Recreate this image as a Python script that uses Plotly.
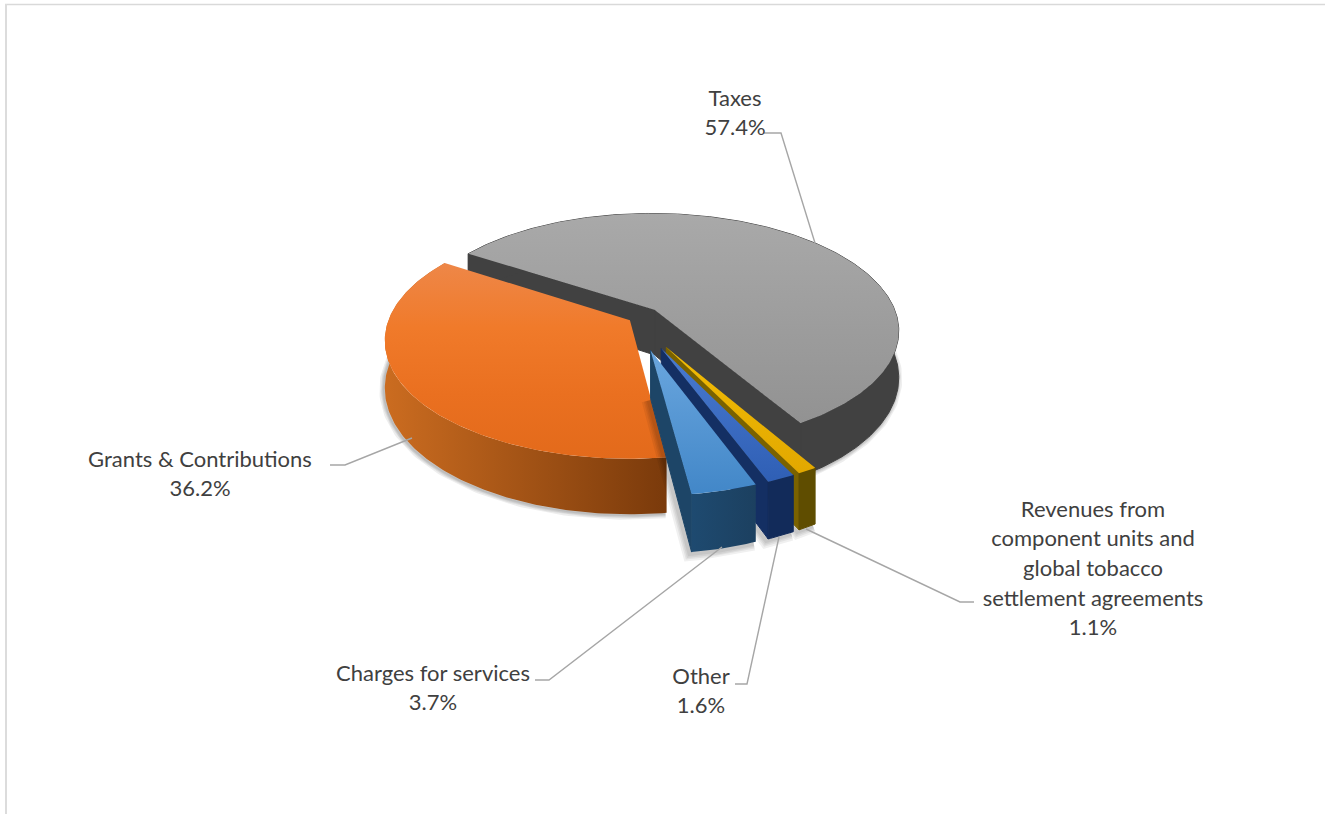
import numpy as np
import plotly.graph_objects as go

# Revenue shares, in pie order (clockwise from the first slice)
categories = ["Taxes", "Revenues from component units and global tobacco settlement agreements",
              "Other", "Charges for services", "Grants & Contributions"]
shares = [57.4, 1.1, 1.6, 3.7, 36.2]
label_lines = [["Taxes"],
               ["Revenues from", "component units and", "global tobacco", "settlement agreements"],
               ["Other"], ["Charges for services"], ["Grants & Contributions"]]

# Drawing style for each slice
explode = [0.12, 0.27, 0.27, 0.27, 0.02]
radius = [1.01, 0.96, 0.96, 0.96, 1.0]
top_colors = [("#a9a9a9", "#929292"), ("#f2bc05", "#e2a800"), ("#4a7bd0", "#2f5fb5"),
              ("#6aa6de", "#4287c8"), ("#ee8748", "#f07a2a", "#ea7020", "#e36a1b")]
wall_colors = [("#414141", "#414141"), ("#5f4d00", "#5f4d00"), ("#122b5a", "#122b5a"),
               ("#1e4a70", "#1c4060"), ("#cb6c20", "#7a3a0b")]
side_colors = ["#414141", "#7a6200", "#142f63", "#1d4567", None]
label_anchor = [(735, 100), (1093, 511), (701, 678), (433, 675), (200, 461)]
leaders = [[(764, 133), (781, 133), (815, 243)],
           [(974, 602), (960, 602), (806, 529)],
           [(735, 684), (747, 684), (779, 537)],
           [(535, 680), (549, 680), (722, 547)],
           [(330, 465), (345, 465), (412, 438)]]

# Perspective of the tilted pie
START_DEG = 302.9
CX, CY, RX, RY, PERSP, DEPTH = 634, 319, 241, 114.5, 0.17, 46
LINE_GAP = 29.7


def project(u, v, drop=False):
    s = 1 / (1 + PERSP * v)
    y = CY - RY * v * s
    return CX + RX * u * s, y + (DEPTH * s if drop else 0)


def polygon(points, gradient, colors, **kw):
    xs = [p[0] for p in points] + [points[0][0]]
    ys = [p[1] for p in points] + [points[0][1]]
    if len(set(colors)) == 1:
        return go.Scatter(x=xs, y=ys, mode="lines", fill="toself", fillcolor=colors[0],
                          line=dict(width=1, color=colors[0]), hoverinfo="skip", **kw)
    vals = xs if gradient == "horizontal" else ys
    stops = [[n / (len(colors) - 1), c] for n, c in enumerate(colors)]
    return go.Scatter(x=xs, y=ys, mode="lines", fill="toself",
                      fillgradient=dict(type=gradient, start=min(vals), stop=max(vals),
                                        colorscale=stops),
                      line=dict(width=0), hoverinfo="skip", **kw)


# Slice geometry computed from the shares
edges = START_DEG + np.concatenate([[0], np.cumsum(shares)]) * 3.6
slices = []
for i in range(len(shares)):
    t0, t1 = np.radians(edges[i]), np.radians(edges[i + 1])
    mid = (t0 + t1) / 2
    au, av = explode[i] * np.sin(mid), explode[i] * np.cos(mid)
    th = np.linspace(t0, t1, max(12, int(shares[i] * 4)))
    u, v = au + radius[i] * np.sin(th), av + radius[i] * np.cos(th)
    top_arc = [project(a, b) for a, b in zip(u, v)]
    low_arc = [project(a, b, True) for a, b in zip(u, v)]
    slices.append(dict(apex=project(au, av), apex_low=project(au, av, True),
                       top=top_arc, low=low_arc))

fig = go.Figure()


def add_shadow(points, dx, dy, widths=(9, 6, 4, 2), strength=0.07):
    # soft edge under a slice, built from stacked translucent strokes
    xs = [p[0] + dx for p in points]
    ys = [p[1] + dy for p in points]
    for w in widths:
        fig.add_trace(go.Scatter(x=xs, y=ys, mode="lines", hoverinfo="skip",
                                 line=dict(width=w, color=f"rgba(0,0,0,{strength})")))


def add_slice(i):
    sl = slices[i]
    wall = sl["top"] + sl["low"][::-1]
    if i in (0, 4):
        lit = [p for p in sl["low"] if p[1] > CY + 10]
        add_shadow(lit, -1, 1)
    else:
        add_shadow(sl["low"] + [sl["apex_low"]], -2, 2, (14, 10, 7, 4), 0.06)
    if i == 0:
        # the cut faces on both sides of the large slice
        fig.add_trace(polygon([sl["apex"], sl["top"][0], sl["low"][0], sl["apex_low"]],
                              "vertical", (side_colors[0], side_colors[0])))
        fig.add_trace(polygon([sl["apex"], sl["top"][-1], sl["low"][-1], sl["apex_low"]],
                              "vertical", (side_colors[0], side_colors[0])))
    elif side_colors[i]:
        side = [sl["apex"], sl["top"][-1], sl["low"][-1], sl["apex_low"]]
        fig.add_trace(polygon(side, "vertical", (side_colors[i], side_colors[i])))
    fig.add_trace(polygon(wall, "horizontal", wall_colors[i]))
    fig.add_trace(polygon([sl["apex"]] + sl["top"], "vertical", top_colors[i]))


for i in (0, 4, 1, 2, 3):
    add_slice(i)

# Leader lines
for path in leaders:
    fig.add_trace(go.Scatter(x=[p[0] for p in path], y=[p[1] for p in path], mode="lines",
                             line=dict(color="#a6a6a6", width=1.4), hoverinfo="skip"))

# Data labels: name lines followed by the share
tx, ty, tt = [], [], []
for lines, share, (ax, ay) in zip(label_lines, shares, label_anchor):
    for n, text in enumerate(lines + [f"{share:.1f}%"]):
        tx.append(ax)
        ty.append(ay + n * LINE_GAP)
        tt.append(text)
fig.add_trace(go.Scatter(x=tx, y=ty, text=tt, mode="text", textposition="middle center",
                         textfont=dict(family="Lato", size=22, color="#404040"), hoverinfo="skip"))

fig.update_layout(
    width=1325, height=814, showlegend=False, margin=dict(l=0, r=0, t=0, b=0),
    paper_bgcolor="white", plot_bgcolor="white", hovermode=False,
    xaxis=dict(range=[0, 1325], visible=False, fixedrange=True),
    yaxis=dict(range=[814, 0], visible=False, fixedrange=True),
    shapes=[dict(type="line", x0=5, x1=1325, y0=4.5, y1=4.5, line=dict(color="#d9d9d9", width=1.5)),
            dict(type="line", x0=6, x1=6, y0=4, y1=814, line=dict(color="#dcdcdc", width=2))],
)
fig.write_html("out.html")
